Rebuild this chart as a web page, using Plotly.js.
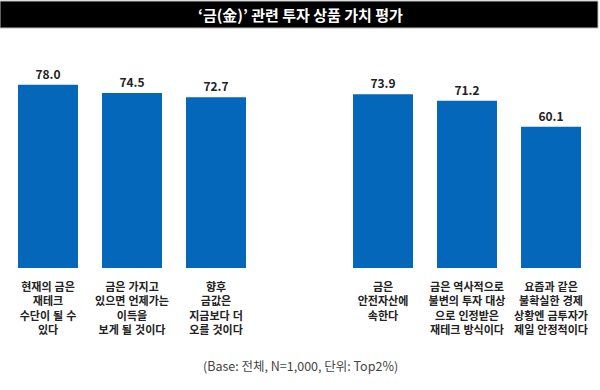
<!DOCTYPE html>
<html>
<head>
<meta charset="utf-8">
<script src="https://cdn.plot.ly/plotly-3.0.1.min.js"></script>
<style>html,body{margin:0;padding:0;background:#fff;}#chart{width:600px;height:390px;}</style>
</head>
<body>
<div id="chart"></div>
<script>
const titleText = "‘금(金)’ 관련 투자 상품 가치 평가";
const footnote = "(Base: 전체, N=1,000, 단위: Top2%)";
const categories = [
  "현재의 금은<br>재테크<br>수단이 될 수<br>있다",
  "금은 가지고<br>있으면 언제가는<br>이득을<br>보게 될 것이다",
  "향후<br>금값은<br>지금보다 더<br>오를 것이다",
  "금은<br>안전자산에<br>속한다",
  "금은 역사적으로<br>불변의 투자 대상<br>으로 인정받은<br>재테크 방식이다",
  "요즘과 같은<br>불확실한 경제<br>상황엔 금투자가<br>제일 안정적이다"
];
const values = [78.0, 74.5, 72.7, 73.9, 71.2, 60.1];
const groupSize = 3;

const W = 600, H = 390, mT = 33, mB = 122;
const plotH = H - mT - mB;
const py = p => (H - mB - p) / plotH; // pixel y -> paper y

const font = "'Noto Sans CJK KR', 'Noto Sans', sans-serif";
const tickFontFamily = "'Liberation Sans', 'Noto Sans CJK KR', sans-serif";
const barColor = "#0567B9";

function barTrace(xs, ys, xa) {
  return {
    type: "bar", x: xs, y: ys, xaxis: xa, yaxis: "y",
    marker: {color: barColor},
    texttemplate: "%{y:.1f}", textposition: "outside", cliponaxis: false,
    textfont: {family: font, size: 12, color: "#222", weight: 700},
    hoverinfo: "skip"
  };
}

const data = [
  barTrace(categories.slice(0, groupSize), values.slice(0, groupSize), "x"),
  barTrace(categories.slice(groupSize), values.slice(groupSize), "x2")
];

const xCommon = {
  type: "category", showgrid: false, zeroline: false, showline: false, ticks: "",
  ticklabelstandoff: 11,
  tickfont: {family: tickFontFamily, size: 11, color: "#222", weight: 700},
  fixedrange: true
};

const layout = {
  width: W, height: H,
  margin: {l: 0, r: 0, t: mT, b: mB},
  paper_bgcolor: "#fff", plot_bgcolor: "#fff",
  showlegend: false,
  bargap: 0.286,
  font: {family: font},
  xaxis: Object.assign({domain: [6/600, 258/600], anchor: "y"}, xCommon),
  xaxis2: Object.assign({domain: [341/600, 593/600], anchor: "y"}, xCommon),
  yaxis: {range: [0, 100], visible: false, fixedrange: true},
  shapes: [{
    type: "rect", xref: "paper", yref: "paper",
    x0: 0, x1: 598/600, y0: py(28), y1: py(1),
    fillcolor: "#000", line: {color: "#bbb", width: 1}
  }],
  annotations: [
    {text: titleText, xref: "paper", yref: "paper", x: 0.5, y: py(15), xanchor: "center", yanchor: "middle",
     showarrow: false, font: {family: font, size: 15, color: "#fff", weight: 700}},
    {text: footnote, xref: "paper", yref: "paper", x: 0.5, y: py(365), xanchor: "center", yanchor: "middle",
     showarrow: false, font: {family: font, size: 12.5, color: "#444"}}
  ]
};

Plotly.newPlot("chart", data, layout, {displayModeBar: false, staticPlot: true});
</script>
</body>
</html>
